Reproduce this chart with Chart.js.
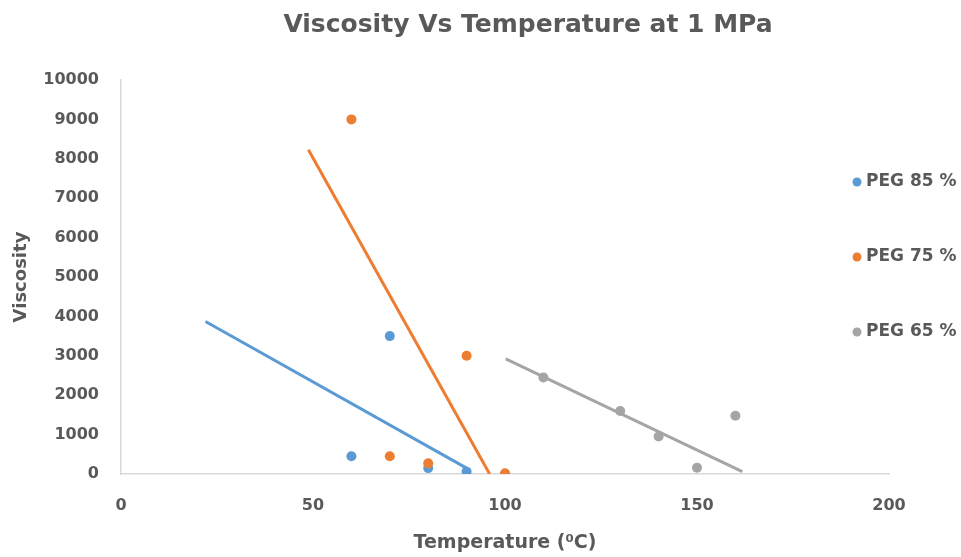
<!DOCTYPE html>
<html>
<head>
<meta charset="utf-8">
<script src="https://cdn.jsdelivr.net/npm/chart.js@4.4.1/dist/chart.umd.min.js"></script>
<style>
  html, body { margin: 0; padding: 0; background: #ffffff; }
  #wrap { width: 961px; height: 557px; }
</style>
</head>
<body>
<div id="wrap"><canvas id="viscosityChart"></canvas></div>
<script>
"use strict";

const chartTitle = "Viscosity Vs Temperature at 1 MPa";
const seriesLabels = ["PEG 85 %", "PEG 75 %", "PEG 65 %"];
const seriesColors = ["#5b9bd5", "#ed7d31", "#a5a5a5"];

// measured points
const temp85 = [60, 70, 80, 90];
const visc85 = [450, 3500, 150, 60];
const temp75 = [60, 70, 80, 90, 100];
const visc75 = [9000, 450, 270, 3000, 20];
const temp65 = [110, 130, 140, 150, 160];
const visc65 = [2450, 1600, 950, 160, 1480];

// trend line end points
const trend85X = [22, 90];
const trend85Y = [3870, 150];
const trend75X = [48.8, 96];
const trend75Y = [8230, 0];
const trend65X = [100.2, 161.8];
const trend65Y = [2920, 60];

const xTicks = { min: 0, max: 200, step: 50 };
const yTicks = { min: 0, max: 10000, step: 1000 };

const textColor = "#595959";
const axisColor = "#d9d9d9";

Chart.defaults.font.family = "'DejaVu Sans', sans-serif";
Chart.defaults.font.weight = "bold";
Chart.defaults.color = textColor;

function toPoints(xs, ys) {
  return xs.map((x, i) => ({ x, y: ys[i] }));
}

// later series sit on top of earlier ones, like the original
function pointSet(label, xs, ys, color, order) {
  return {
    label,
    data: toPoints(xs, ys),
    backgroundColor: color,
    borderColor: color,
    borderWidth: 0,
    pointRadius: 5,
    pointHoverRadius: 5,
    order
  };
}

function trendSet(xs, ys, color) {
  return {
    label: "",
    isTrend: true,
    data: toPoints(xs, ys),
    showLine: true,
    borderColor: color,
    backgroundColor: color,
    borderWidth: 3,
    pointRadius: 0,
    pointHoverRadius: 0,
    order: 2
  };
}

const titlePlugin = {
  id: "centredTitle",
  afterDraw(chart) {
    const ctx = chart.ctx;
    ctx.save();
    ctx.font = "bold 25px 'DejaVu Sans'";
    ctx.fillStyle = textColor;
    ctx.textAlign = "center";
    ctx.textBaseline = "middle";
    ctx.fillText(chartTitle, 528, 25);
    ctx.restore();
  }
};

const sideLegend = {
  id: "sideLegend",
  afterDraw(chart) {
    const ctx = chart.ctx;
    const items = chart.data.datasets.filter((ds) => !ds.isTrend);
    ctx.save();
    ctx.font = "bold 17px 'DejaVu Sans'";
    ctx.textAlign = "left";
    ctx.textBaseline = "middle";
    items.forEach((ds, i) => {
      const y = 182 + i * 75;
      ctx.fillStyle = ds.backgroundColor;
      ctx.beginPath();
      ctx.arc(857, y, 4.5, 0, Math.PI * 2);
      ctx.fill();
      ctx.fillStyle = textColor;
      ctx.fillText(ds.label, 866, y);
    });
    ctx.restore();
  }
};

new Chart(document.getElementById("viscosityChart"), {
  type: "scatter",
  data: {
    datasets: [
      pointSet(seriesLabels[0], temp85, visc85, seriesColors[0], 1.3),
      pointSet(seriesLabels[1], temp75, visc75, seriesColors[1], 1.2),
      pointSet(seriesLabels[2], temp65, visc65, seriesColors[2], 1.1),
      trendSet(trend85X, trend85Y, seriesColors[0]),
      trendSet(trend75X, trend75Y, seriesColors[1]),
      trendSet(trend65X, trend65Y, seriesColors[2])
    ]
  },
  options: {
    responsive: true,
    maintainAspectRatio: false,
    animation: false,
    layout: { padding: { top: 80, right: 72, bottom: 0, left: 0 } },
    plugins: {
      legend: { display: false },
      title: { display: false },
      tooltip: { enabled: false }
    },
    scales: {
      x: {
        type: "linear",
        min: xTicks.min,
        max: xTicks.max,
        grid: { display: false, drawTicks: false },
        border: { display: true, color: axisColor, width: 1.5 },
        ticks: {
          stepSize: xTicks.step,
          padding: 22,
          font: { size: 16, weight: "bold" },
          callback: (v) => String(v)
        },
        title: {
          display: true,
          text: "Temperature (⁰C)",
          font: { size: 19, weight: "bold" },
          padding: { top: 0, bottom: 3 }
        },
        afterFit(scale) { scale.height = 83; }
      },
      y: {
        min: yTicks.min,
        max: yTicks.max,
        grid: { display: false, drawTicks: false },
        border: { display: true, color: axisColor, width: 1.5 },
        ticks: {
          stepSize: yTicks.step,
          padding: 22,
          font: { size: 16, weight: "bold" },
          callback: (v) => String(v)
        },
        title: {
          display: true,
          text: "Viscosity",
          font: { size: 18, weight: "bold" },
          padding: { top: 11, bottom: 0 }
        },
        afterFit(scale) { scale.width = 121; }
      }
    }
  },
  plugins: [titlePlugin, sideLegend]
});
</script>
</body>
</html>
